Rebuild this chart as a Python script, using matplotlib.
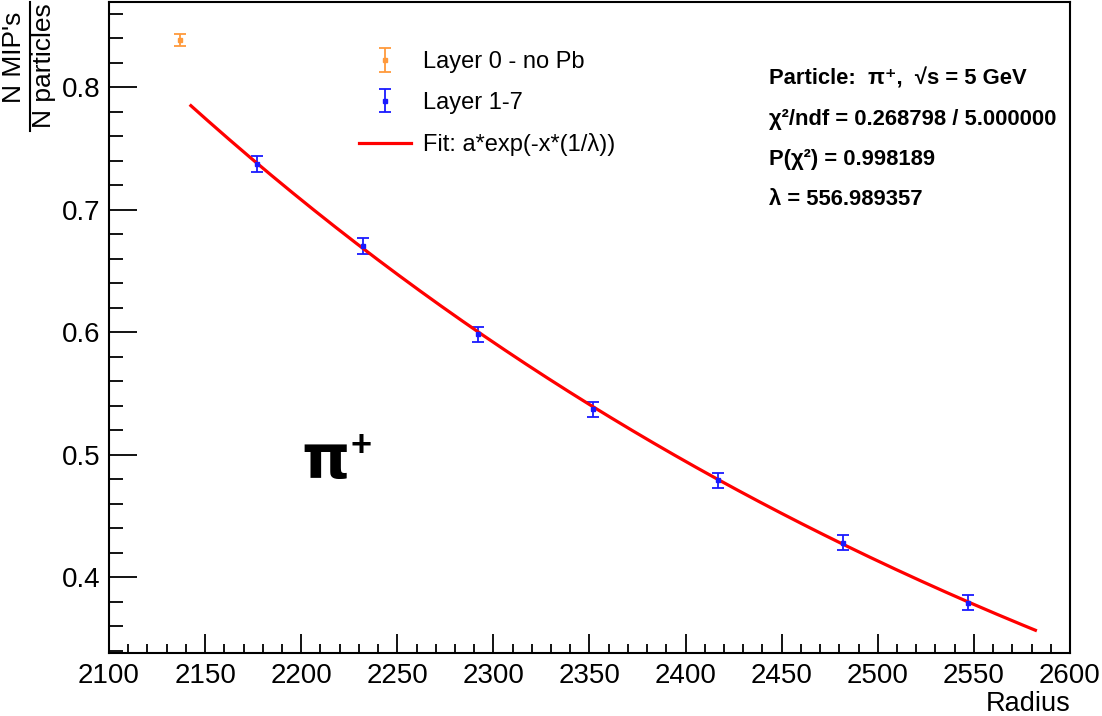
import numpy as np
import matplotlib
matplotlib.use("Agg")
import matplotlib.pyplot as plt
from matplotlib.ticker import MultipleLocator
from matplotlib.lines import Line2D

plt.rcParams['font.family'] = ['Liberation Sans', 'DejaVu Sans']

# layer 0 (no Pb)
x0 = [2137]
y0 = [0.8385]
e0 = [0.005]

# layers 1-7
x17 = [2177, 2232, 2292, 2352, 2417, 2482, 2547]
y17 = [0.737, 0.670, 0.598, 0.537, 0.479, 0.428, 0.379]
e17 = [0.0065, 0.0065, 0.0065, 0.006, 0.006, 0.006, 0.006]

# fit a*exp(-x/lambda)
fit_a = 36.76
fit_lambda = 556.989357
fit_range = (2142.6, 2582)

stats_lines = ["Particle:  π⁺,  √s = 5 GeV",
               "χ²/ndf = 0.268798 / 5.000000",
               "P(χ²) = 0.998189",
               "λ = 556.989357"]

W, H = 1102, 716
fig = plt.figure(figsize=(W / 100, H / 100), dpi=100)
ax = fig.add_axes([109 / W, 1 - 653 / H, (1070 - 109) / W, (653 - 2) / H])

h0 = ax.errorbar(x0, y0, yerr=e0, fmt='s', color='#ff9a3c', ms=3.5, capsize=4,
                 elinewidth=1.3, capthick=1.3, label='Layer 0 - no Pb')
h1 = ax.errorbar(x17, y17, yerr=e17, fmt='s', color='#1a1aff', ms=3.5, capsize=4,
                 elinewidth=1.3, capthick=1.3, label='Layer 1-7')
xf = np.linspace(fit_range[0], fit_range[1], 200)
h2, = ax.plot(xf, fit_a * np.exp(-xf / fit_lambda), color='red', lw=2.3,
              label='Fit: a*exp(-x*(1/λ))')

ax.set_xlim(2100, 2600)
ax.set_ylim(0.338, 0.8694)
ax.xaxis.set_major_locator(MultipleLocator(50))
ax.xaxis.set_minor_locator(MultipleLocator(10))
ax.yaxis.set_major_locator(MultipleLocator(0.1))
ax.yaxis.set_minor_locator(MultipleLocator(0.02))
ax.yaxis.set_major_formatter(plt.FuncFormatter(lambda v, p: f"{v:g}"))
ax.tick_params(axis='both', which='both', direction='in', top=False, right=False,
               labelsize=20, width=1.3)
ax.tick_params(axis='x', which='major', length=13.5, pad=7)
ax.tick_params(axis='x', which='minor', length=6.8)
ax.tick_params(axis='y', which='major', length=20, pad=6)
ax.tick_params(axis='y', which='minor', length=10)
for s in ax.spines.values():
    s.set_linewidth(1.5)

leg = ax.legend(handles=[h0, h1, h2], loc='upper left',
                bbox_to_anchor=(359 / W, 1 - 51 / H),
                bbox_transform=fig.transFigure, frameon=False, fontsize=17,
                handlelength=2.2, labelspacing=0.8, handletextpad=0.5,
                borderaxespad=0, borderpad=0)

for i, line in enumerate(stats_lines):
    fig.text(769 / W, 1 - (85 + i * 40) / H, line, fontsize=15.8, fontweight='bold',
             ha='left', va='baseline')

fig.text(301 / W, 1 - 478 / H, "π", fontsize=44, fontweight='bold',
         family=['DejaVu Sans'], ha='left', va='baseline')
fig.text(350 / W, 1 - 456 / H, "+", fontsize=26, fontweight='bold',
         ha='left', va='baseline')

fig.text(1070 / W, 1 - 711 / H, "Radius", fontsize=19.5, ha='right', va='baseline')

# y label as a fraction
fig.text(14 / W, 1 - 57 / H, "N MIP's", fontsize=19, rotation=90,
         ha='center', va='center')
fig.text(44 / W, 1 - 66 / H, "N particles", fontsize=19, rotation=90,
         ha='center', va='center')
fig.add_artist(Line2D([30 / W, 30 / W], [1 - 2 / H, 1 - 131 / H], color='black',
                      lw=1.5, transform=fig.transFigure))

fig.savefig("out.png", dpi=100)
